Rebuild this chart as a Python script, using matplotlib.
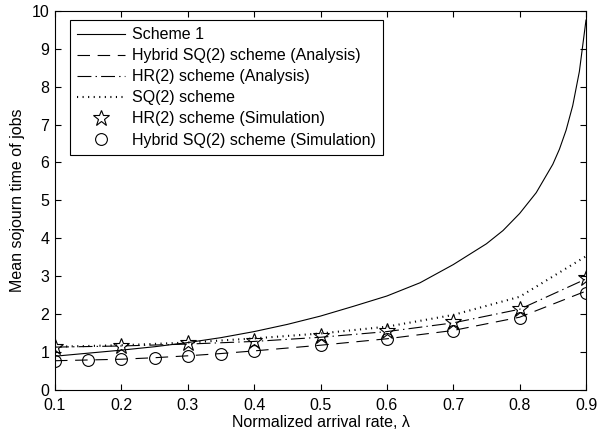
import matplotlib
matplotlib.use("Agg")
import matplotlib.pyplot as plt

plt.rcParams['font.family'] = ['Liberation Sans', 'DejaVu Sans']
plt.rcParams['lines.scale_dashes'] = False

# Scheme 1 (solid curve)
lam_s1 = [0.10, 0.15, 0.20, 0.25, 0.30, 0.35, 0.40, 0.45, 0.50, 0.55, 0.60,
          0.65, 0.70, 0.75, 0.775, 0.80, 0.825, 0.85, 0.86, 0.87, 0.88, 0.89, 0.90]
scheme1 = [0.88, 0.96, 1.04, 1.13, 1.24, 1.37, 1.53, 1.72, 1.94, 2.20, 2.47,
           2.82, 3.30, 3.85, 4.20, 4.65, 5.20, 5.95, 6.35, 6.85, 7.50, 8.40, 9.76]

# Hybrid SQ(2) analysis (dashed)
lam_hyb = [0.10, 0.15, 0.20, 0.25, 0.30, 0.35, 0.40, 0.50, 0.60, 0.70, 0.80, 0.90]
hybrid_analysis = [0.76, 0.78, 0.80, 0.84, 0.89, 0.95, 1.02, 1.17, 1.34, 1.56, 1.91, 2.60]

# HR(2) analysis (dash-dot)
lam_hr = [0.1, 0.2, 0.3, 0.4, 0.5, 0.6, 0.7, 0.8, 0.9]
hr_analysis = [1.12, 1.15, 1.20, 1.27, 1.38, 1.53, 1.76, 2.12, 2.92]

# SQ(2) scheme (dotted)
lam_sq = [0.1, 0.2, 0.3, 0.4, 0.5, 0.6, 0.7, 0.8, 0.9]
sq2 = [1.13, 1.17, 1.24, 1.35, 1.48, 1.66, 1.97, 2.45, 3.52]

# HR(2) simulation (stars)
lam_hr_sim = [0.1, 0.2, 0.3, 0.4, 0.5, 0.6, 0.7, 0.8, 0.9]
hr_sim = [1.13, 1.15, 1.22, 1.29, 1.42, 1.55, 1.79, 2.14, 2.94]

# Hybrid SQ(2) simulation (circles)
lam_hyb_sim = [0.10, 0.15, 0.20, 0.25, 0.30, 0.35, 0.40, 0.50, 0.60, 0.70, 0.80, 0.90]
hyb_sim = [0.75, 0.78, 0.80, 0.84, 0.89, 0.95, 1.02, 1.17, 1.33, 1.55, 1.90, 2.56]

xticks = [0.1, 0.2, 0.3, 0.4, 0.5, 0.6, 0.7, 0.8, 0.9]
yticks = [0, 1, 2, 3, 4, 5, 6, 7, 8, 9, 10]

FS = 11.5

fig = plt.figure(figsize=(5.98, 4.38), dpi=100)
ax = fig.add_axes([55 / 598, (438 - 389.5) / 438, 531 / 598, 378.5 / 438])

ax.plot(lam_s1, scheme1, color='black', lw=0.8, label='Scheme 1')
ax.plot(lam_hyb, hybrid_analysis, color='black', lw=0.8, dashes=(9, 5.5),
        label='Hybrid SQ(2) scheme (Analysis)')
ax.plot(lam_hr, hr_analysis, color='black', lw=0.8, dashes=(10, 3, 1, 3),
        label='HR(2) scheme (Analysis)')
ax.plot(lam_sq, sq2, color='black', lw=1.5, dashes=(0.8, 3.2),
        label='SQ(2) scheme')
ax.plot(lam_hr_sim, hr_sim, linestyle='none', marker='*', markersize=12,
        mfc='none', mec='black', mew=0.8, label='HR(2) scheme (Simulation)')
ax.plot(lam_hyb_sim, hyb_sim, linestyle='none', marker='o', markersize=8.5,
        mfc='none', mec='black', mew=0.8, label='Hybrid SQ(2) scheme (Simulation)')

ax.set_xlim(0.1, 0.9)
ax.set_ylim(0, 10)
ax.set_xticks(xticks)
ax.set_xticklabels([str(t) for t in xticks])
ax.set_yticks(yticks)
ax.tick_params(direction='in', top=True, right=True, length=4, labelsize=FS, width=0.8)
ax.tick_params(axis='x', pad=6)
ax.tick_params(axis='y', pad=4)
for s in ax.spines.values():
    s.set_linewidth(0.8)

ax.set_xlabel('Normalized arrival rate, λ', fontsize=FS, labelpad=1.5)
ax.set_ylabel('Mean sojourn time of jobs', fontsize=FS, labelpad=5)

leg = ax.legend(loc='upper left', bbox_to_anchor=(15 / 531, 369.5 / 378.5),
                fontsize=FS, frameon=True, fancybox=False,
                edgecolor='black', framealpha=1, handlelength=3.0,
                handletextpad=0.45, labelspacing=0.38, borderaxespad=0,
                borderpad=0.45)
leg.get_frame().set_linewidth(0.8)

fig.savefig('out.png', dpi=100)
